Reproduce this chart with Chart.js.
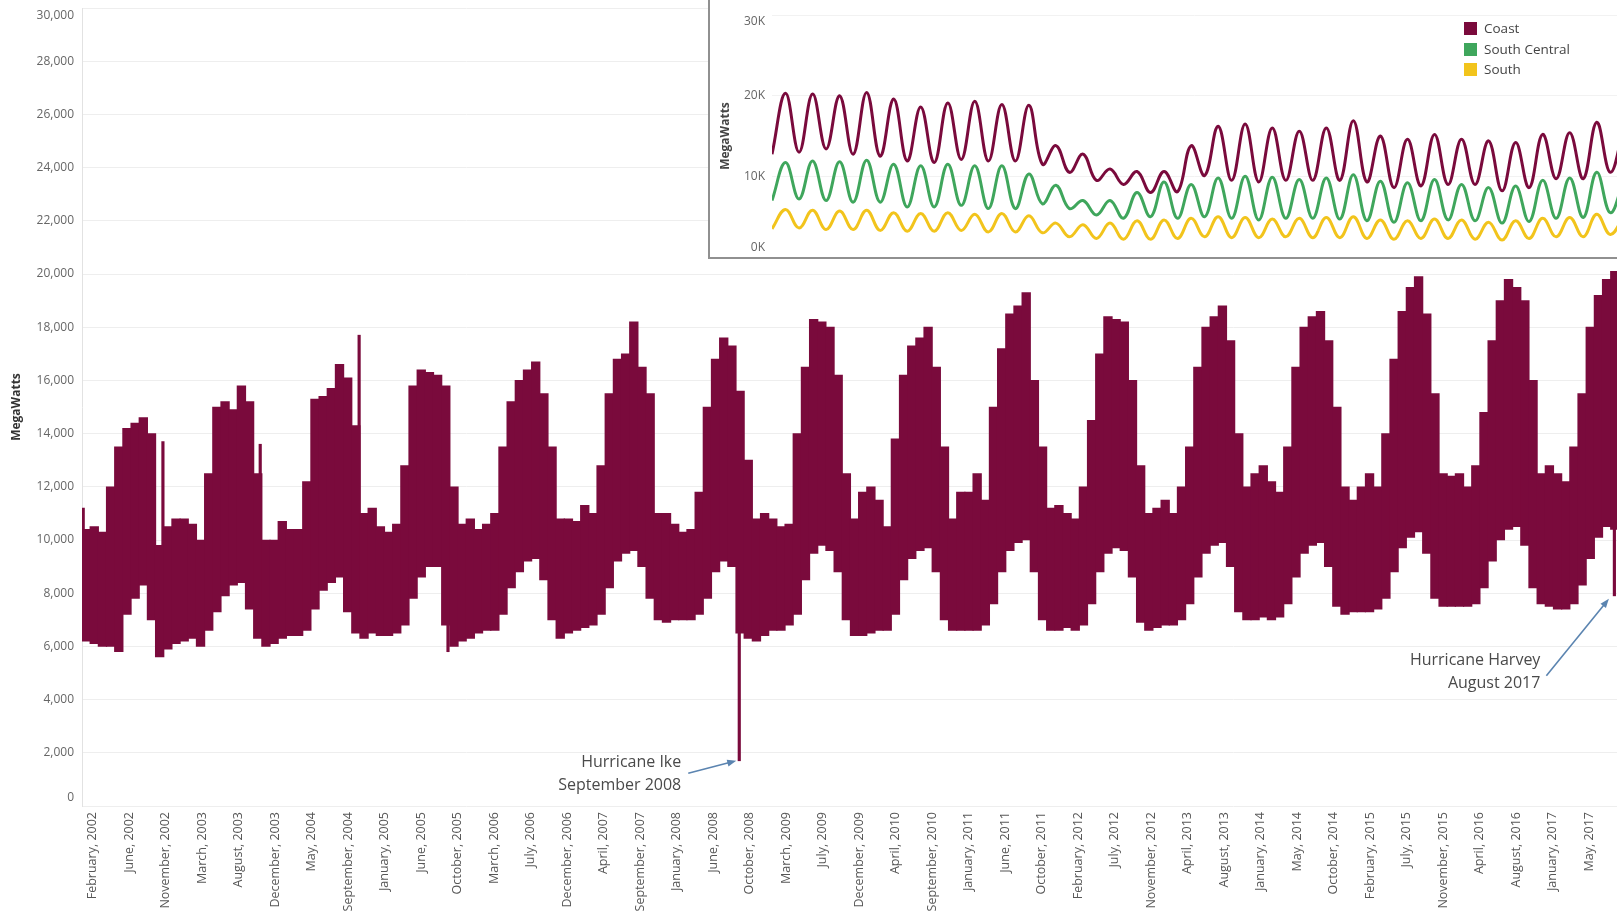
<!DOCTYPE html>
<html>
<head>
<meta charset="utf-8">
<script src="https://cdn.jsdelivr.net/npm/chart.js@4.4.1/dist/chart.umd.min.js"></script>
<style>
  html, body { margin: 0; padding: 0; background: #fff; overflow: hidden; }
  #wrap { position: relative; width: 1617px; height: 918px; }
  #main { position: absolute; left: 0; top: 0; }
  #inset { position: absolute; left: 708px; top: 0; width: 909px; height: 257px;
           border-left: 2px solid #909090; border-bottom: 2px solid #909090; background: #fff; }
  #insetCanvas { position: absolute; left: 0; top: 0; }
  .lg { position: absolute; left: 754px; height: 14px; line-height: 14px; white-space: nowrap;
        font-family: 'Open Sans', sans-serif; font-size: 13.5px; color: #444; }
  .lg span { display: inline-block; width: 13px; height: 13px; vertical-align: -2px; margin-right: 7px; }
</style>
</head>
<body>
<div id="wrap">
  <canvas id="main" width="1617" height="918"></canvas>
  <div id="inset">
    <canvas id="insetCanvas" width="907" height="257"></canvas>
  </div>
</div>
<script>
// ---------- Main chart data (MegaWatts, monthly envelope, Jan 2002 .. Aug 2017) ----------
const tickLabels = ["February, 2002","June, 2002","November, 2002","March, 2003","August, 2003","December, 2003",
  "May, 2004","September, 2004","January, 2005","June, 2005","October, 2005","March, 2006","July, 2006",
  "December, 2006","April, 2007","September, 2007","January, 2008","June, 2008","October, 2008","March, 2009",
  "July, 2009","December, 2009","April, 2010","September, 2010","January, 2011","June, 2011","October, 2011",
  "February, 2012","July, 2012","November, 2012","April, 2013","August, 2013","January, 2014","May, 2014",
  "October, 2014","February, 2015","July, 2015","November, 2015","April, 2016","August, 2016","January, 2017","May, 2017"];

const lowMW = [
  6200, 6100, 6000, 6000, 5800, 7200, 7800, 8300, 7000, 5600, 5900, 6100,
  6200, 6300, 6000, 6600, 7300, 7900, 8300, 8400, 7400, 6300, 6000, 6100,
  6300, 6400, 6400, 6600, 7400, 8100, 8400, 8600, 7300, 6500, 6300, 6500,
  6400, 6400, 6500, 6800, 7800, 8600, 9000, 9000, 6800, 6000, 6200, 6300,
  6500, 6600, 6600, 7200, 8200, 8800, 9200, 9300, 8500, 7000, 6300, 6500,
  6600, 6700, 6800, 7200, 8200, 9200, 9500, 9600, 9000, 7800, 7000, 6900,
  7000, 7000, 7000, 7200, 7800, 8800, 9200, 9000, 6500, 6300, 6200, 6400,
  6600, 6600, 6800, 7200, 8500, 9500, 9800, 9600, 8800, 7000, 6400, 6400,
  6500, 6600, 6600, 7200, 8500, 9300, 9600, 9700, 8800, 7000, 6600, 6600,
  6600, 6600, 6800, 7600, 8800, 9600, 9900, 10000, 8800, 7000, 6600, 6600,
  6700, 6600, 6800, 7600, 8800, 9500, 9700, 9600, 8600, 6900, 6600, 6700,
  6800, 6800, 7000, 7600, 8600, 9500, 9800, 9900, 9000, 7300, 7000, 7000,
  7100, 7000, 7100, 7600, 8600, 9500, 9800, 9900, 9000, 7500, 7200, 7300,
  7300, 7300, 7400, 7800, 8800, 9700, 10100, 10300, 9500, 7800, 7500, 7500,
  7500, 7500, 7600, 8200, 9200, 10000, 10400, 10500, 9800, 8200, 7600, 7500,
  7400, 7400, 7600, 8300, 9300, 10100, 10500, 10400];

const highMW = [
  10400, 10500, 10300, 12000, 13500, 14200, 14400, 14600, 14000, 9800, 10500, 10800,
  10800, 10600, 10000, 12500, 15000, 15200, 14900, 15800, 15200, 12500, 10000, 10000,
  10700, 10400, 10400, 12200, 15300, 15400, 15700, 16600, 16100, 14300, 11000, 11200,
  10500, 10300, 10600, 12800, 15800, 16400, 16300, 16200, 15800, 12000, 10600, 10800,
  10400, 10600, 11000, 13500, 15200, 16000, 16400, 16700, 15500, 13500, 10800, 10800,
  10700, 11300, 11000, 12800, 15500, 16800, 17000, 18200, 16500, 15500, 11000, 11000,
  10600, 10300, 10400, 11800, 15000, 16800, 17600, 17300, 15600, 13000, 10800, 11000,
  10800, 10500, 10600, 14000, 16500, 18300, 18200, 18000, 16200, 12500, 10800, 11800,
  12000, 11500, 10500, 13800, 16200, 17300, 17600, 18000, 16500, 13500, 10800, 11800,
  11800, 12500, 11500, 15000, 17200, 18500, 18800, 19300, 16000, 13500, 11200, 11300,
  11000, 10800, 12000, 14500, 17000, 18400, 18300, 18200, 16000, 12800, 11000, 11200,
  11500, 11000, 12000, 13500, 16500, 18000, 18400, 18800, 17500, 14000, 12000, 12500,
  12800, 12200, 11800, 13500, 16500, 18000, 18400, 18600, 17500, 15000, 12000, 11500,
  12000, 12500, 12000, 14000, 16800, 18600, 19500, 19900, 18500, 15500, 12500, 12400,
  12500, 12000, 12800, 14800, 17500, 19000, 19800, 19500, 19000, 16000, 12500, 12800,
  12500, 12200, 13500, 15500, 18000, 19200, 19800, 20100];

// single-hour spikes (month position, low, high)
const spikeMonth = [0.15, 9.9, 21.8, 33.9, 44.77, 80.4, 187.45];
const spikeLow   = [9000, 9000, 9500, 9500, 5800, 1700, 7900];
const spikeHigh  = [11200, 13700, 13600, 17700, 8500, 9000, 16500];

// ---------- Inset data (half-year troughs / peaks, MegaWatts) ----------
const seriesNames = ["Coast", "South Central", "South"];
const coastMW = [12750, 20300, 13000, 20200, 13400, 20000, 12750, 20400, 12500, 19600, 11900, 18600, 11700, 19100,
  12100, 19300, 11900, 18900, 11900, 18800, 11500, 13800, 10500, 12750, 9500, 10900, 9000, 10600, 8000, 10600, 8100,
  13800, 10100, 16200, 9500, 16500, 9300, 16000, 9500, 15600, 9500, 16000, 9500, 16900, 9300, 15000, 8600, 14600,
  8800, 15200, 9000, 14600, 9000, 14400, 8200, 14200, 8600, 15200, 9700, 15400, 9700, 16700, 10500, 16000];
const southCentralMW = [7000, 11700, 7200, 11900, 7000, 11800, 6800, 12000, 6800, 11500, 6200, 11300, 6200, 11500,
  6400, 11300, 6000, 11300, 6000, 10300, 6600, 8900, 6000, 7000, 5200, 7000, 4800, 8000, 5000, 9300, 4800,
  9000, 5000, 9800, 4800, 10000, 4600, 9900, 4800, 9600, 4800, 9800, 4700, 10200, 4500, 9400, 4300, 9200,
  4500, 9600, 4600, 9000, 4500, 8600, 4200, 8800, 4400, 9500, 4800, 9800, 4900, 10500, 5500, 9500];
const southMW = [3500, 5900, 3600, 5800, 3400, 5700, 3400, 5800, 3300, 5500, 3200, 5400, 3200, 5500,
  3300, 5300, 3100, 5400, 3100, 5100, 3000, 4200, 2500, 4000, 2300, 4200, 2200, 4500, 2200, 4600, 2300,
  4800, 2500, 5000, 2400, 4900, 2400, 4700, 2500, 4800, 2400, 4900, 2400, 5000, 2300, 4600, 2200, 4500,
  2300, 4700, 2300, 4600, 2200, 4300, 2100, 4500, 2300, 4800, 2500, 4900, 2500, 5300, 2800, 5000];

// ---------- Styling ----------
const MAROON = '#7a0a3c';
const GREEN = '#3fa65c';
const YELLOW = '#f2c41c';
const seriesColors = [MAROON, GREEN, YELLOW];

Chart.defaults.font.family = "'Open Sans', sans-serif";

// annotations anchored at data values; offsets in px
const notes = [
  { lines: ["Hurricane Ike", "September 2008"], month: 80.4, mw: 1700,
    tip: [-3, 0], tail: [-51, 12.5], text: [-58, 2] },
  { lines: ["Hurricane Harvey", "August 2017"], month: 187.45, mw: 7900,
    tip: [-5.5, 3], tail: [-68, 80], text: [-74, 65] }
];

const edgeLabelShift = {
  id: 'edgeLabelShift',
  beforeDraw(chart, args, opts) {
    const s = chart.scales.y;
    const items = s.getLabelItems();
    if (!items.length || items._shifted) return;
    items[0].options.translation[1] -= opts.bottom;
    items[items.length - 1].options.translation[1] += opts.top;
    items._shifted = true;
  }
};

const notesPlugin = {
  id: 'hurricaneNotes',
  afterDatasetsDraw(chart) {
    const { ctx, scales: { x, y } } = chart;
    notes.forEach(n => {
      const px = x.getPixelForValue(n.month), py = y.getPixelForValue(n.mw);
      const tipX = px + n.tip[0], tipY = py + n.tip[1];
      const tailX = px + n.tail[0], tailY = py + n.tail[1];
      ctx.save();
      ctx.strokeStyle = '#5b84b0'; ctx.fillStyle = '#5b84b0'; ctx.lineWidth = 1.6;
      const ang = Math.atan2(tipY - tailY, tipX - tailX);
      const c = Math.cos(ang), s = Math.sin(ang);
      ctx.beginPath(); ctx.moveTo(tailX, tailY); ctx.lineTo(tipX - 5 * c, tipY - 5 * s); ctx.stroke();
      ctx.beginPath();
      ctx.moveTo(tipX, tipY);
      ctx.lineTo(tipX - 9 * c + 3.5 * s, tipY - 9 * s - 3.5 * c);
      ctx.lineTo(tipX - 9 * c - 3.5 * s, tipY - 9 * s + 3.5 * c);
      ctx.closePath(); ctx.fill();
      ctx.font = "16px 'Open Sans', sans-serif";
      ctx.fillStyle = '#4a4a4a'; ctx.textAlign = 'right'; ctx.textBaseline = 'middle';
      n.lines.forEach((t, k) => ctx.fillText(t, px + n.text[0], py + n.text[1] + k * 23));
      ctx.restore();
    });
  }
};

// ---------- Main chart ----------
const tickFirst = 1.32, tickStep = 4.465;
const monthBars = lowMW.map((lo, i) => ({ x: i + 0.5, y: [lo, highMW[i]] }));
const spikeBars = spikeMonth.map((m, i) => ({ x: m, y: [spikeLow[i], spikeHigh[i]] }));

new Chart(document.getElementById('main'), {
  type: 'bar',
  data: {
    datasets: [
      { label: 'Coast', data: monthBars, backgroundColor: MAROON, borderWidth: 0,
        barThickness: 8.7, grouped: false },
      { label: 'Coast spikes', data: spikeBars, backgroundColor: MAROON, borderWidth: 0,
        barThickness: 2.5, grouped: false }
    ]
  },
  options: {
    responsive: false, animation: false, devicePixelRatio: 1,
    layout: { padding: { top: 8, left: 0, right: 0, bottom: 0 } },
    plugins: { legend: { display: false }, tooltip: { enabled: false },
               edgeLabelShift: { top: 8, bottom: 8 } },
    scales: {
      x: {
        type: 'linear', min: 0, max: 187.77, offset: false,
        grid: { display: false, drawTicks: false }, border: { display: false },
        afterBuildTicks: s => { s.ticks = tickLabels.map((l, i) => ({ value: tickFirst + i * tickStep })); },
        afterFit: s => { s.height = 112; s.paddingLeft = 0; s.paddingRight = 0; },
        ticks: { autoSkip: false, maxRotation: 90, minRotation: 90, padding: 6, color: '#575757',
                 font: { size: 12.5 }, callback: (v, i) => tickLabels[i] }
      },
      y: {
        min: 0, max: 30000,
        grid: { color: '#eeeeee', drawTicks: false },
        border: { display: true, color: '#e2e2e2' },
        afterFit: s => { s.width = 82; s.paddingTop = 0; s.paddingBottom = 0; },
        ticks: { stepSize: 2000, padding: 8, color: '#666', font: { size: 12 },
                 callback: v => v.toLocaleString('en-US') },
        title: { display: true, text: 'MegaWatts', color: '#333',
                 font: { size: 12, weight: 'bold' }, padding: { top: 9, bottom: 0 } }
      }
    }
  },
  plugins: [edgeLabelShift, notesPlugin]
});

// ---------- Inset chart ----------
const insetValues = [coastMW, southCentralMW, southMW];
new Chart(document.getElementById('insetCanvas'), {
  type: 'line',
  data: {
    datasets: seriesNames.map((name, k) => ({
      label: name,
      data: insetValues[k].map((v, i) => ({ x: i, y: v })),
      borderColor: seriesColors[k], backgroundColor: seriesColors[k],
      borderWidth: 3, pointRadius: 0, tension: 0.4, fill: false
    }))
  },
  options: {
    responsive: false, animation: false, devicePixelRatio: 1,
    layout: { padding: { top: 15, left: 0, right: 0, bottom: 0 } },
    plugins: { legend: { display: false }, tooltip: { enabled: false },
               edgeLabelShift: { top: 7, bottom: 9 } },
    scales: {
      x: { type: 'linear', min: 0, max: 62.5, display: false },
      y: {
        min: 0, max: 30000,
        grid: { color: '#f2f2f2', drawTicks: false }, border: { display: false },
        afterFit: s => { s.width = 62; s.paddingTop = 0; s.paddingBottom = 0; },
        ticks: { stepSize: 10000, padding: 7, color: '#666', font: { size: 12 },
                 callback: v => (v / 1000) + 'K' },
        title: { display: true, text: 'MegaWatts', color: '#444',
                 font: { size: 12, weight: 'bold' }, padding: { top: 8, bottom: 0 } }
      }
    }
  },
  plugins: [edgeLabelShift]
});

// inset legend from series names / colours
const insetBox = document.getElementById('inset');
seriesNames.forEach((name, k) => {
  const d = document.createElement('div');
  d.className = 'lg';
  d.style.top = (21 + k * 20.5) + 'px';
  const sw = document.createElement('span');
  sw.style.background = seriesColors[k];
  d.appendChild(sw);
  d.appendChild(document.createTextNode(name));
  insetBox.appendChild(d);
});
</script>
</body>
</html>
